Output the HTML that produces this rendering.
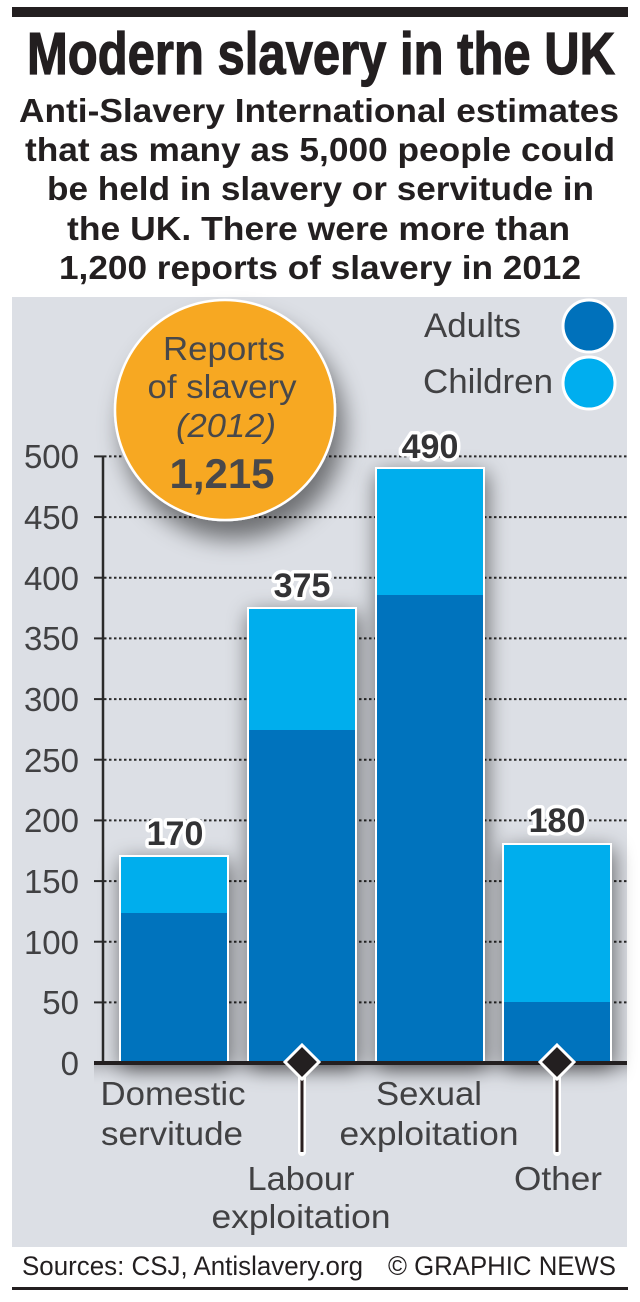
<!DOCTYPE html>
<html><head><meta charset="utf-8"><style>
html,body{margin:0;padding:0;background:#fff;}
svg{display:block;}
text{font-family:"Liberation Sans",Arial,sans-serif;}
</style></head><body>
<svg width="640" height="1302" viewBox="0 0 640 1302" xmlns="http://www.w3.org/2000/svg">
<defs>
<filter id="sh" x="-40%" y="-40%" width="180%" height="180%">
<feGaussianBlur in="SourceAlpha" stdDeviation="11"/>
<feOffset dx="2" dy="6" result="b"/>
<feComponentTransfer><feFuncA type="linear" slope="0.55"/></feComponentTransfer>
<feMerge><feMergeNode/><feMergeNode in="SourceGraphic"/></feMerge>
</filter>
<filter id="shc" x="-40%" y="-40%" width="180%" height="190%">
<feGaussianBlur in="SourceAlpha" stdDeviation="12"/>
<feOffset dx="8" dy="18" result="b"/>
<feComponentTransfer><feFuncA type="linear" slope="0.5"/></feComponentTransfer>
<feMerge><feMergeNode/><feMergeNode in="SourceGraphic"/></feMerge>
</filter>
<linearGradient id="bg" x1="0" y1="0" x2="0" y2="1">
<stop offset="0" stop-color="#aeb0b6"/>
<stop offset="1" stop-color="#dcdfe5" stop-opacity="0"/>
</linearGradient>
</defs>

<!-- top bar -->
<rect x="12" y="7" width="616" height="10" fill="#231f20"/>

<!-- title -->
<text x="27" y="74" font-size="59" font-weight="bold" fill="#231f20" stroke="#231f20" stroke-width="1.2" textLength="588" lengthAdjust="spacingAndGlyphs">Modern slavery in the UK</text>

<!-- subtitle -->
<g font-size="33" font-weight="bold" fill="#231f20">
<text x="19" y="122" textLength="600" lengthAdjust="spacingAndGlyphs">Anti-Slavery International estimates</text>
<text x="25" y="161" textLength="590" lengthAdjust="spacingAndGlyphs">that as many as 5,000 people could</text>
<text x="47" y="200" textLength="547" lengthAdjust="spacingAndGlyphs">be held in slavery or servitude in</text>
<text x="67" y="240" textLength="503" lengthAdjust="spacingAndGlyphs">the UK. There were more than</text>
<text x="59" y="279" textLength="522" lengthAdjust="spacingAndGlyphs">1,200 reports of slavery in 2012</text>
</g>

<!-- panel -->
<rect x="12" y="297" width="615" height="950" fill="#dcdfe5"/>
<rect x="94" y="1064" width="533" height="22" fill="url(#bg)"/>

<!-- gridlines -->
<g stroke="#2a2a2a" stroke-width="2" stroke-dasharray="2.5 2.5">
<line x1="104" y1="456.4" x2="627" y2="456.4"/>
<line x1="104" y1="517.1" x2="627" y2="517.1"/>
<line x1="104" y1="577.7" x2="627" y2="577.7"/>
<line x1="104" y1="638.4" x2="627" y2="638.4"/>
<line x1="104" y1="699.1" x2="627" y2="699.1"/>
<line x1="104" y1="759.7" x2="627" y2="759.7"/>
<line x1="104" y1="820.4" x2="627" y2="820.4"/>
<line x1="104" y1="881.1" x2="627" y2="881.1"/>
<line x1="104" y1="941.7" x2="627" y2="941.7"/>
<line x1="104" y1="1002.4" x2="627" y2="1002.4"/>
</g>
<!-- ticks -->
<g stroke="#2a2a2a" stroke-width="2">
<line x1="94" y1="456.4" x2="104" y2="456.4"/>
<line x1="94" y1="517.1" x2="104" y2="517.1"/>
<line x1="94" y1="577.7" x2="104" y2="577.7"/>
<line x1="94" y1="638.4" x2="104" y2="638.4"/>
<line x1="94" y1="699.1" x2="104" y2="699.1"/>
<line x1="94" y1="759.7" x2="104" y2="759.7"/>
<line x1="94" y1="820.4" x2="104" y2="820.4"/>
<line x1="94" y1="881.1" x2="104" y2="881.1"/>
<line x1="94" y1="941.7" x2="104" y2="941.7"/>
<line x1="94" y1="1002.4" x2="104" y2="1002.4"/>
</g>
<line x1="103" y1="456" x2="103" y2="1063" stroke="#2a2a2a" stroke-width="2.5"/>

<!-- axis labels -->
<g font-size="33" fill="#414143" text-anchor="end">
<text x="79" y="468">500</text>
<text x="79" y="529">450</text>
<text x="79" y="590">400</text>
<text x="79" y="650">350</text>
<text x="79" y="711">300</text>
<text x="79" y="772">250</text>
<text x="79" y="832">200</text>
<text x="79" y="893">150</text>
<text x="79" y="954">100</text>
<text x="79" y="1014">50</text>
<text x="79" y="1075">0</text>
</g>

<!-- bars -->
<g filter="url(#sh)">
<rect x="119" y="855" width="110" height="208" fill="#fff"/>
<rect x="247" y="607" width="110" height="456" fill="#fff"/>
<rect x="375" y="467" width="110" height="596" fill="#fff"/>
<rect x="502" y="843" width="110" height="220" fill="#fff"/>
</g>
<rect x="121" y="857" width="106" height="206" fill="#00aeed"/>
<rect x="121" y="913" width="106" height="150" fill="#0073bd"/>
<rect x="249" y="609" width="106" height="454" fill="#00aeed"/>
<rect x="249" y="730" width="106" height="333" fill="#0073bd"/>
<rect x="377" y="469" width="106" height="594" fill="#00aeed"/>
<rect x="377" y="595" width="106" height="468" fill="#0073bd"/>
<rect x="504" y="845" width="106" height="218" fill="#00aeed"/>
<rect x="504" y="1002" width="106" height="61" fill="#0073bd"/>

<!-- baseline -->
<line x1="94" y1="1063" x2="627" y2="1063" stroke="#231f20" stroke-width="4"/>

<!-- value labels -->
<g font-size="34" font-weight="bold" text-anchor="middle" fill="#333335" stroke="#fff" stroke-width="7" stroke-linejoin="round" paint-order="stroke">
<text x="175" y="845">170</text>
<text x="302" y="597">375</text>
<text x="430" y="458">490</text>
<text x="557" y="832">180</text>
</g>

<!-- pointers -->
<g>
<line x1="302" y1="1062" x2="302" y2="1152" stroke="#fff" stroke-width="8" stroke-linecap="round"/>
<line x1="302" y1="1062" x2="302" y2="1152" stroke="#2a1f1f" stroke-width="3"/>
<polygon points="302,1045 319,1062 302,1079 285,1062" fill="#231f20" stroke="#fff" stroke-width="3" stroke-linejoin="miter"/>
<line x1="557" y1="1062" x2="557" y2="1152" stroke="#fff" stroke-width="8" stroke-linecap="round"/>
<line x1="557" y1="1062" x2="557" y2="1152" stroke="#2a1f1f" stroke-width="3"/>
<polygon points="557,1045 574,1062 557,1079 540,1062" fill="#231f20" stroke="#fff" stroke-width="3" stroke-linejoin="miter"/>
</g>

<!-- category labels -->
<g font-size="33" fill="#414143" text-anchor="middle">
<text x="173" y="1105" textLength="145" lengthAdjust="spacingAndGlyphs">Domestic</text>
<text x="172" y="1145" textLength="142" lengthAdjust="spacingAndGlyphs">servitude</text>
<text x="301" y="1190" textLength="107" lengthAdjust="spacingAndGlyphs">Labour</text>
<text x="301" y="1228" textLength="179" lengthAdjust="spacingAndGlyphs">exploitation</text>
<text x="429" y="1105" textLength="106" lengthAdjust="spacingAndGlyphs">Sexual</text>
<text x="429" y="1145" textLength="179" lengthAdjust="spacingAndGlyphs">exploitation</text>
<text x="558" y="1190" textLength="88" lengthAdjust="spacingAndGlyphs">Other</text>
</g>

<!-- legend -->
<g font-size="34" fill="#414143" text-anchor="end">
<text x="521" y="337" textLength="97" lengthAdjust="spacingAndGlyphs">Adults</text>
<text x="553" y="393" textLength="130" lengthAdjust="spacingAndGlyphs">Children</text>
</g>
<circle cx="589" cy="326" r="26" fill="#0071bb" stroke="#fff" stroke-width="3"/>
<circle cx="589" cy="383" r="26" fill="#00aeef" stroke="#fff" stroke-width="3"/>

<!-- orange circle -->
<circle cx="225" cy="410" r="110" fill="#f7a823" stroke="#fff" stroke-width="2.5" filter="url(#shc)"/>
<g fill="#48484a" text-anchor="middle">
<text x="224" y="360" font-size="33" textLength="122" lengthAdjust="spacingAndGlyphs">Reports</text>
<text x="222" y="398" font-size="33" textLength="149" lengthAdjust="spacingAndGlyphs">of slavery</text>
<text x="226" y="437" font-size="33" font-style="italic" textLength="100" lengthAdjust="spacingAndGlyphs">(2012)</text>
<text x="222" y="488" font-size="42" font-weight="bold" textLength="105" lengthAdjust="spacingAndGlyphs">1,215</text>
</g>

<!-- footer -->
<g font-size="27" fill="#231f20">
<text x="22" y="1275" textLength="341" lengthAdjust="spacingAndGlyphs">Sources: CSJ, Antislavery.org</text>
<text x="388" y="1275" textLength="228" lengthAdjust="spacingAndGlyphs">© GRAPHIC NEWS</text>
</g>
<rect x="12" y="1287" width="616" height="3" fill="#231f20"/>
</svg>
</body></html>
